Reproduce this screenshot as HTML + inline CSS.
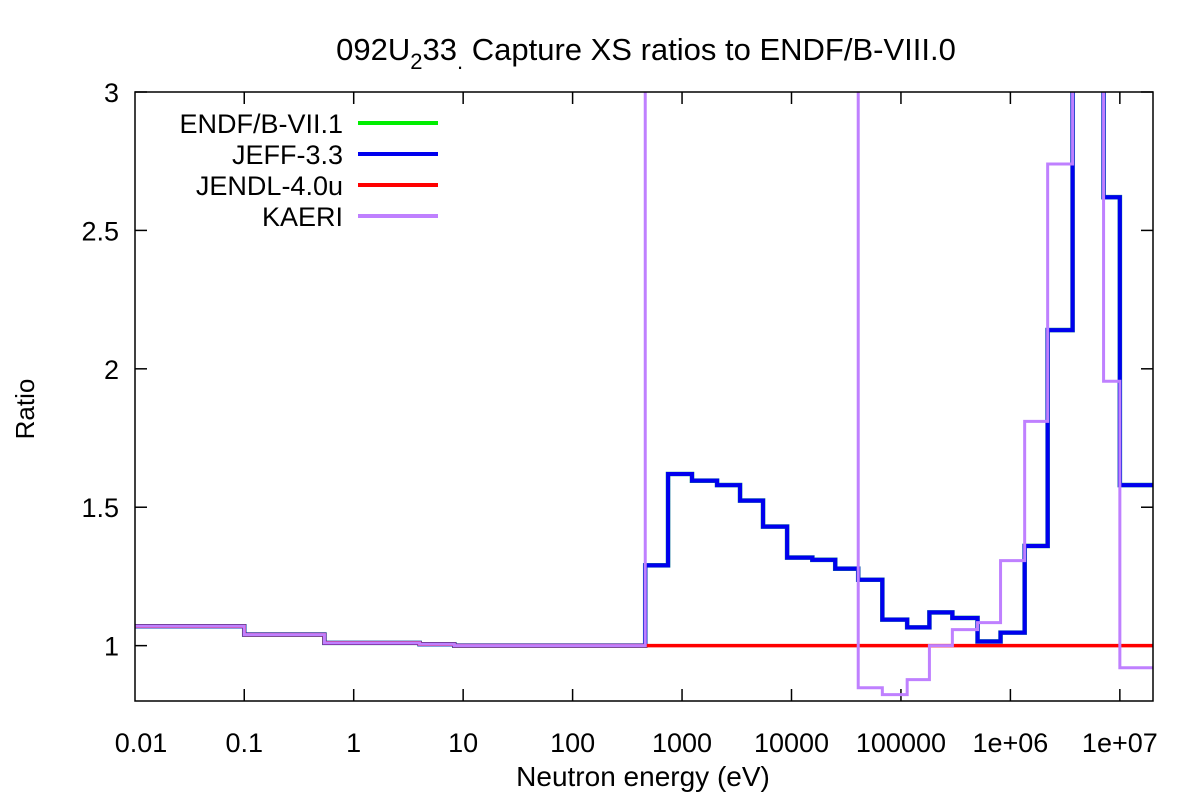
<!DOCTYPE html>
<html><head><meta charset="utf-8"><style>
body{margin:0;background:#fff;}
svg{display:block;font-family:"Liberation Sans","DejaVu Sans",sans-serif;}
</style></head><body>
<svg id="chart" width="1200" height="800" viewBox="0 0 1200 800" xmlns="http://www.w3.org/2000/svg">
<defs><clipPath id="plotclip"><rect x="135" y="92" width="1018" height="609"/></clipPath></defs>
<text x="646" y="60" font-size="31" text-anchor="middle">092U<tspan font-size="22" dy="9">2</tspan><tspan dy="-9">33</tspan><tspan font-size="22" dy="9">.</tspan><tspan dy="-9"> Capture XS ratios to ENDF/B-VIII.0</tspan></text>
<g id="axes"></g>
<g id="series" clip-path="url(#plotclip)"></g>
<rect x="135" y="92" width="1018" height="609" fill="none" stroke="#000" stroke-width="1.5"/>
<text x="643" y="786" font-size="28" text-anchor="middle">Neutron energy (eV)</text>
<text x="0" y="0" font-size="26" text-anchor="middle" transform="translate(34,409) rotate(-90)">Ratio</text>
<g id="legend"></g>
</svg>
<script>
const edges = [0.01,0.1,0.54,4,8.3,461,745,1233,2089,3388,5495,9120,15500,25100,40700,67600,114000,182000,295000,501000,813000,1.35e6,2.19e6,3.7e6,7.1e6,1e7,2e7];
const endf71 = [1.07,1.04,1.01,1.005,1.0,1.29,1.62,1.596,1.58,1.524,1.43,1.318,1.31,1.278,1.238,1.094,1.066,1.12,1.10,1.015,1.047,1.36,2.14,3.5,2.62,1.58];
const jeff33 = [1.07,1.04,1.01,1.005,1.0,1.29,1.62,1.596,1.58,1.524,1.43,1.318,1.31,1.278,1.238,1.094,1.066,1.12,1.10,1.015,1.047,1.36,2.14,3.5,2.62,1.58];
const jendl40u = [1.07,1.04,1.01,1.005,1.0,1,1,1,1,1,1,1,1,1,1,1,1,1,1,1,1,1,1,1,1,1];
const kaeri = [1.07,1.04,1.01,1.005,1.0,3.5,3.5,3.5,3.5,3.5,3.5,3.5,3.5,3.5,0.848,0.823,0.877,1.0,1.058,1.083,1.307,1.81,2.74,3.5,1.955,0.92];
const xTickVals = [0.01,0.1,1,10,100,1000,10000,100000,1e6,1e7];
const xTickLabels = ["0.01","0.1","1","10","100","1000","10000","100000","1e+06","1e+07"];
const yTickVals = [1,1.5,2,2.5,3];
const yTickLabels = ["1","1.5","2","2.5","3"];
const seriesNames = ["ENDF/B-VII.1","JEFF-3.3","JENDL-4.0u","KAERI"];

const NS="http://www.w3.org/2000/svg";
const L=135,R=1153,T=92,B=701;
function xs(e){return 134.8+109.45*(Math.log10(e)+2);}
function ys(v){return B-(v-0.8)/(3-0.8)*(B-T);}
function mk(tag,attrs,parent){const el=document.createElementNS(NS,tag);for(const k in attrs)el.setAttribute(k,attrs[k]);parent.appendChild(el);return el;}

const axes=document.getElementById('axes');
xTickVals.forEach((v,i)=>{
  const x=xs(v);
  if(i>0){
    const t1=mk('line',{x1:x,y1:B,x2:x,y2:B-12,stroke:'#000','stroke-width':1.5},axes);
    
    
    const t2=mk('line',{x1:x,y1:T,x2:x,y2:T+12,stroke:'#000','stroke-width':1.5},axes);
    
    
  }
  const tx=mk('text',{x:Math.max(x,141),y:752,'font-size':27,'text-anchor':'middle'},axes);
  tx.textContent=xTickLabels[i];
  
  
});
yTickVals.forEach((v,i)=>{
  const y=ys(v);
  const t1=mk('line',{x1:L,y1:y,x2:L+12,y2:y,stroke:'#000','stroke-width':1.5},axes);
  
  
  const t2=mk('line',{x1:R,y1:y,x2:R-12,y2:y,stroke:'#000','stroke-width':1.5},axes);
  
  
  const tx=mk('text',{x:119,y:y+10,'font-size':27,'text-anchor':'end'},axes);
  tx.textContent=yTickLabels[i];
  
  
});

function stepPath(vals){
  let d='M'+xs(edges[0])+','+ys(vals[0]);
  for(let i=0;i<vals.length;i++){
    if(i>0)d+=' V'+ys(vals[i]);
    d+=' H'+xs(edges[i+1]);
  }
  return d;
}
const sg=document.getElementById('series');
const specs=[[endf71,'#1a8a8a',4.6,'series-endf-b-vii-1'],[jeff33,'#0000ee',4,'series-jeff-3-3'],[jendl40u,'#ff0000',3.5,'series-jendl-4-0u'],[kaeri,'#bf80ff',3,'series-kaeri']];
specs.forEach(s=>{
  const p=mk('path',{d:stepPath(s[0]),fill:'none',stroke:s[1],'stroke-width':s[2]},sg);
  
  
});
const lg=document.getElementById('legend');
const lcol=['#00ee00','#0000ee','#ff0000','#bf80ff'];
seriesNames.forEach((n,i)=>{
  const y=123+i*31;
  const t=mk('text',{x:343,y:y+10,'font-size':27,'text-anchor':'end'},lg);
  t.textContent=n;
  
  
  const l=mk('line',{x1:358,y1:y,x2:438,y2:y,stroke:lcol[i],'stroke-width':4},lg);
  
  
});
</script>
</body></html>
